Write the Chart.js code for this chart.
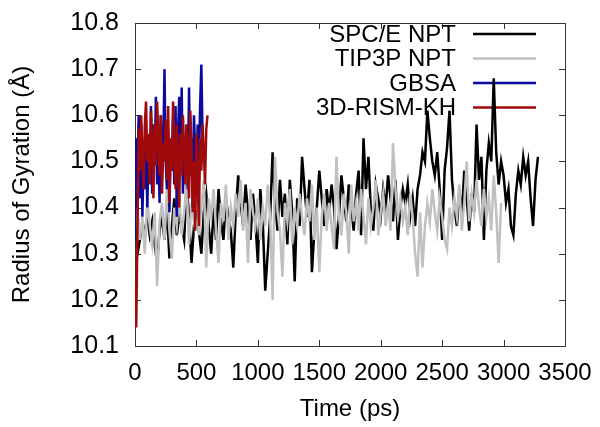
<!DOCTYPE html>
<html>
<head>
<meta charset="utf-8">
<script src="https://cdn.jsdelivr.net/npm/chart.js@4/dist/chart.umd.min.js"></script>
<style>
  html, body { margin: 0; padding: 0; background: #fff; }
  #wrap { width: 600px; height: 427px; }
</style>
</head>
<body>
<div id="wrap"><canvas id="chart" width="600" height="427"></canvas></div>
<script>
// sampling step (ps) of each run
const spceStep = 20;
const tip3pStep = 20;
const gbsaStep = 10;
const rismStep = 10;

// Radius of gyration (Å)
const spceValues = [
  10.46, 10.30, 10.33, 10.36, 10.35, 10.38, 10.34, 10.37, 10.32, 10.28,
  10.35, 10.38, 10.33, 10.40, 10.29, 10.36, 10.42, 10.34, 10.38, 10.36,
  10.33, 10.45, 10.38, 10.28, 10.36, 10.41, 10.35, 10.30, 10.39, 10.43,
  10.36, 10.30, 10.40, 10.33, 10.44, 10.37, 10.33, 10.42, 10.38, 10.35,
  10.27, 10.39, 10.47, 10.41, 10.36, 10.45, 10.39, 10.33, 10.43, 10.37,
  10.28, 10.44, 10.37, 10.22, 10.30, 10.38, 10.52, 10.41, 10.35, 10.46,
  10.38, 10.43, 10.32, 10.46, 10.39, 10.24, 10.42, 10.36, 10.51, 10.44,
  10.38, 10.46, 10.26, 10.35, 10.40, 10.48, 10.42, 10.36, 10.44, 10.39,
  10.45, 10.40, 10.31, 10.38, 10.47, 10.42, 10.37, 10.45, 10.40, 10.35,
  10.43, 10.48, 10.34, 10.55, 10.44, 10.51, 10.39, 10.35, 10.45, 10.42,
  10.38, 10.44, 10.40, 10.47, 10.42, 10.37, 10.46, 10.33, 10.40, 10.44,
  10.41, 10.45, 10.38, 10.42, 10.36, 10.44, 10.47, 10.52, 10.50, 10.61,
  10.55, 10.50, 10.47, 10.52, 10.44, 10.33, 10.48, 10.53, 10.61, 10.46,
  10.40, 10.36, 10.44, 10.38, 10.48, 10.42, 10.35, 10.43, 10.39, 10.58,
  10.46, 10.51, 10.33, 10.48, 10.54, 10.50, 10.68, 10.52, 10.45, 10.50,
  10.47, 10.41, 10.44, 10.36, 10.34, 10.43, 10.48, 10.45, 10.51, 10.47,
  10.50, 10.42, 10.36, 10.46, 10.51
];
const tip3pValues = [
  10.35, 10.40, 10.33, 10.38, 10.30, 10.42, 10.36, 10.32, 10.39, 10.23,
  10.37, 10.41, 10.33, 10.44, 10.35, 10.29, 10.40, 10.36, 10.43, 10.34,
  10.39, 10.45, 10.32, 10.41, 10.37, 10.44, 10.34, 10.40, 10.46, 10.27,
  10.42, 10.38, 10.44, 10.35, 10.28, 10.41, 10.37, 10.45, 10.33, 10.40,
  10.36, 10.43, 10.38, 10.46, 10.35, 10.41, 10.28, 10.44, 10.39, 10.36,
  10.42, 10.33, 10.40, 10.36, 10.45, 10.38, 10.20, 10.51, 10.39, 10.35,
  10.25, 10.41, 10.37, 10.44, 10.32, 10.40, 10.36, 10.43, 10.38, 10.34,
  10.42, 10.37, 10.45, 10.33, 10.40, 10.26, 10.38, 10.43, 10.35, 10.41,
  10.36, 10.31, 10.51, 10.38, 10.34, 10.43, 10.39, 10.30, 10.45, 10.37,
  10.41, 10.35, 10.44, 10.38, 10.32, 10.42, 10.36, 10.40, 10.46, 10.34,
  10.39, 10.43, 10.36, 10.41, 10.35, 10.54, 10.44, 10.38, 10.42, 10.37,
  10.40, 10.34, 10.43, 10.38, 10.30, 10.25, 10.39, 10.27, 10.36, 10.41,
  10.37, 10.44, 10.39, 10.35, 10.42, 10.38, 10.33, 10.31, 10.40, 10.36,
  10.42, 10.38, 10.45, 10.35, 10.41, 10.50, 10.37, 10.43, 10.39, 10.46,
  10.40, 10.36, 10.44, 10.38, 10.42, 10.35, 10.47, 10.39, 10.28, 10.41
];
const gbsaValues = [
  10.33, 10.55, 10.48, 10.60, 10.42, 10.58, 10.38, 10.50, 10.44, 10.56,
  10.40, 10.52, 10.46, 10.62, 10.43, 10.58, 10.49, 10.64, 10.45, 10.55,
  10.41, 10.60, 10.47, 10.53, 10.70, 10.50, 10.44, 10.57, 10.39, 10.52,
  10.48, 10.60, 10.45, 10.62, 10.38, 10.56, 10.64, 10.48, 10.66, 10.43,
  10.54, 10.50, 10.58, 10.44, 10.66, 10.47, 10.55, 10.40, 10.60, 10.52,
  10.46, 10.58, 10.49, 10.62, 10.71, 10.55
];
const rismValues = [
  10.24, 10.14, 10.35, 10.57, 10.48, 10.60, 10.52, 10.44, 10.58, 10.63,
  10.50, 10.56, 10.45, 10.61, 10.53, 10.42, 10.58, 10.49, 10.63, 10.55,
  10.47, 10.60, 10.43, 10.54, 10.50, 10.59, 10.46, 10.62, 10.41, 10.55,
  10.48, 10.63, 10.52, 10.44, 10.58, 10.50, 10.40, 10.56, 10.47, 10.60,
  10.53, 10.45, 10.58, 10.49, 10.42, 10.61, 10.54, 10.39, 10.50, 10.35,
  10.56, 10.47, 10.36, 10.55, 10.48, 10.58, 10.52, 10.45, 10.57, 10.60
];

const seriesNames = ['SPC/E NPT', 'TIP3P NPT', 'GBSA', '3D-RISM-KH'];
const seriesColors = ['#000000', '#c0c0c0', '#0a0a9e', '#a00a0a'];
const xTicks = [0, 500, 1000, 1500, 2000, 2500, 3000, 3500];
const yTicks = [10.1, 10.2, 10.3, 10.4, 10.5, 10.6, 10.7, 10.8];

const FONT = "'Liberation Sans', Arial, Helvetica, sans-serif";

function toPoints(values, step) {
  return values.map((v, i) => ({ x: i * step, y: v }));
}

const allSeries = [
  toPoints(spceValues, spceStep),
  toPoints(tip3pValues, tip3pStep),
  toPoints(gbsaValues, gbsaStep),
  toPoints(rismValues, rismStep)
];

// gnuplot style frame with inward ticks on all four sides
const framePlugin = {
  id: 'frame',
  beforeDatasetsDraw(chart) {
    const { ctx, chartArea: a, scales } = chart;
    ctx.save();
    ctx.strokeStyle = '#333';
    ctx.lineWidth = 1;
    ctx.strokeRect(a.left + 0.5, a.top + 0.5, a.right - a.left, a.bottom - a.top);
    ctx.beginPath();
    xTicks.forEach(t => {
      const px = Math.round(scales.x.getPixelForValue(t)) + 0.5;
      ctx.moveTo(px, a.bottom); ctx.lineTo(px, a.bottom - 6);
      ctx.moveTo(px, a.top); ctx.lineTo(px, a.top + 6);
    });
    yTicks.forEach(t => {
      const py = Math.round(scales.y.getPixelForValue(t)) + 0.5;
      ctx.moveTo(a.left, py); ctx.lineTo(a.left + 6, py);
      ctx.moveTo(a.right, py); ctx.lineTo(a.right - 6, py);
    });
    ctx.stroke();
    ctx.restore();
  }
};

// key: label right-aligned, line sample to its right
const keyPlugin = {
  id: 'key',
  beforeDatasetsDraw(chart) {
    const { ctx } = chart;
    ctx.save();
    ctx.font = '24px ' + FONT;
    ctx.textAlign = 'right';
    ctx.textBaseline = 'middle';
    seriesNames.forEach((name, i) => {
      const y = 34 + i * 24.5;
      ctx.fillStyle = '#000';
      ctx.fillText(name, 456, y + 1);
      ctx.strokeStyle = seriesColors[i];
      ctx.lineWidth = 2.5;
      ctx.beginPath();
      ctx.moveTo(473, y); ctx.lineTo(536, y);
      ctx.stroke();
    });
    ctx.restore();
  }
};

const ctx = document.getElementById('chart').getContext('2d');
const chart = new Chart(ctx, {
  type: 'line',
  data: {
    datasets: allSeries.map((pts, i) => ({
      label: seriesNames[i],
      data: pts,
      borderColor: seriesColors[i],
      borderWidth: 2.5,
      pointRadius: 0,
      tension: 0,
      fill: false,
      order: seriesNames.length - i
    }))
  },
  options: {
    responsive: false,
    animation: false,
    devicePixelRatio: 1,
    layout: { padding: { top: 16, right: 35, left: 0, bottom: 0 } },
    plugins: { legend: { display: false }, tooltip: { enabled: false } },
    scales: {
      x: {
        type: 'linear',
        min: 0,
        max: 3500,
        afterBuildTicks: s => { s.ticks = xTicks.map(v => ({ value: v })); },
        afterFit: s => { s.height = 81; },
        grid: { display: false },
        border: { display: false },
        ticks: { color: '#000', font: { family: FONT, size: 24 }, padding: 5, maxRotation: 0, autoSkip: false, callback: v => String(v) },
        title: { display: true, text: 'Time (ps)', color: '#000', font: { family: FONT, size: 24 }, padding: { top: 0, bottom: 3 } }
      },
      y: {
        min: 10.1,
        max: 10.8,
        afterBuildTicks: s => { s.ticks = yTicks.map(v => ({ value: v })); },
        afterFit: s => { s.width = 135; },
        grid: { display: false },
        border: { display: false },
        ticks: { color: '#000', font: { family: FONT, size: 25 }, padding: 8, autoSkip: false, callback: v => v.toFixed(1) },
        title: { display: true, text: 'Radius of Gyration (Å)', color: '#000', font: { family: FONT, size: 24 }, padding: { top: 8, bottom: 0 } }
      }
    }
  },
  plugins: [framePlugin, keyPlugin]
});
</script>
</body>
</html>
